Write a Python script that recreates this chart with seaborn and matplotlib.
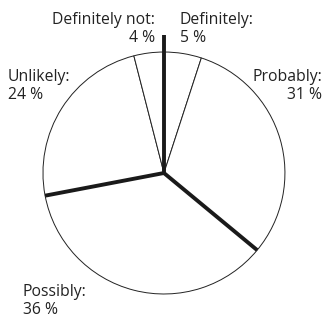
import numpy as np
import matplotlib
matplotlib.use("Agg")
import matplotlib.pyplot as plt
import seaborn as sns

categories = ["Definitely", "Probably", "Possibly", "Unlikely", "Definitely not"]
values = [5, 31, 36, 24, 4]
labels = ["Definitely:\n5 %", "Probably:\n31 %", "Possibly:\n36 %", "Unlikely:\n24 %", "Definitely not:\n4 %"]
# group boundaries drawn as thick lines (after cumulative index)
thick_after = [0, 2, 3]  # boundary at start, after Probably, after Possibly

sns.set_theme(style="white")
plt.rcParams['font.family'] = ['Open Sans', 'DejaVu Sans']

fig = plt.figure(figsize=(3.25, 3.2), dpi=100)
ax = fig.add_axes([0, 0, 1, 1])
ax.pie(values, startangle=90, counterclock=False, colors=["white"] * len(values),
       wedgeprops=dict(edgecolor="#222222", linewidth=0.7), radius=1.0, center=(0, 0))

cum = np.concatenate([[0], np.cumsum(values)]) / np.sum(values)
for idx in thick_after:
    ang = np.deg2rad(90 - 360 * cum[idx])
    r = 1.14 if idx == 0 else 1.0
    ax.plot([0, r * np.cos(ang)], [0, r * np.sin(ang)], color="#1a1a1a", lw=2.8,
            solid_capstyle="butt", zorder=5)

ax.set_xlim(-1.355, 1.331)
ax.set_ylim(-1.215, 1.430)
ax.set_aspect("equal")
ax.axis("off")

fs = 11.3
pos = {
    "Definitely": (0.132, 1.19, "left"),
    "Probably": (1.31, 0.72, "right"),
    "Possibly": (-1.168, -1.06, "left"),
    "Unlikely": (-1.29, 0.72, "left"),
    "Definitely not": (-0.074, 1.19, "right"),
}
for c, lab in zip(categories, labels):
    x, y, ha = pos[c]
    ax.text(x, y, lab, ha=ha, va="center", multialignment=ha, fontsize=fs,
            color="#222222", linespacing=1.15)

fig.savefig("out.png", dpi=100)
